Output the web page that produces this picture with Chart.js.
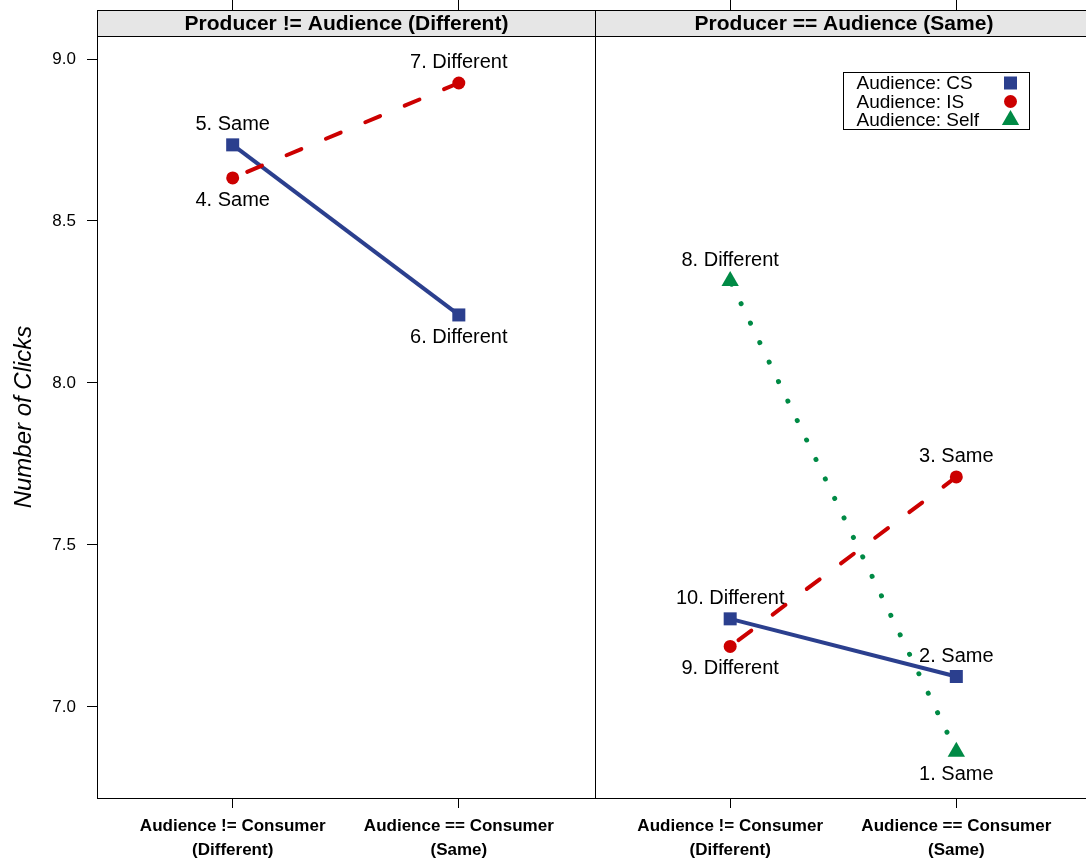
<!DOCTYPE html>
<html>
<head>
<meta charset="utf-8">
<script src="https://cdn.jsdelivr.net/npm/chart.js@4.4.1/dist/chart.umd.min.js"></script>
<style>
html, body { margin: 0; padding: 0; background: #fff; overflow: hidden; }
#wrap { position: relative; width: 1092px; height: 863px; overflow: hidden; }
canvas { display: block; width: 1092px; height: 863px; }
</style>
</head>
<body>
<div id="wrap"><canvas id="chart" width="1092" height="863"></canvas></div>
<script>
const FONT = '"Liberation Sans", Arial, Helvetica, sans-serif';

// text of the panels / axes
const panelTitles = ['Producer != Audience (Different)', 'Producer == Audience (Same)'];
const categories = [['Audience != Consumer', '(Different)'], ['Audience == Consumer', '(Same)']];
const yTicks = [7.0, 7.5, 8.0, 8.5, 9.0];
const yTitle = 'Number of Clicks';
const legendNames = ['Audience: CS', 'Audience: IS', 'Audience: Self'];

// panel 1: Producer != Audience, values for [Different, Same] consumer
const csP1 = [8.735, 8.210];
const isP1 = [8.633, 8.926];
const csP1Labels = ['5. Same', '6. Different'];
const isP1Labels = ['4. Same', '7. Different'];

// panel 2: Producer == Audience
const csP2 = [7.272, 7.094];
const isP2 = [7.187, 7.710];
const selfP2 = [8.315, 6.862];
const csP2Labels = ['10. Different', '2. Same'];
const isP2Labels = ['9. Different', '3. Same'];
const selfP2Labels = ['8. Different', '1. Same'];

// look
const styles = {
  CS:   { color: '#2B3F8E', pointStyle: 'rect',     radius: 9.2, width: 4, dash: [] },
  IS:   { color: '#CC0000', pointStyle: 'circle',   radius: 6.5, width: 4, dash: [16, 26.7] },
  Self: { color: '#008A45', pointStyle: 'triangle', radius: 10,  width: 5, dash: [0.01, 21.6] },
};
const PAD = 0.6;                                   // lattice padding of a factor axis
const panelSpan = categories.length - 1 + 2 * PAD; // width of one panel in x units
const STRIP_H = 26;
const xOf = (panel, i) => 1 + i + panel * panelSpan;
const catTicks = panelTitles.flatMap((_, p) => categories.map((_, i) => xOf(p, i)));

function series(key, panel, vals, labels, sides, order) {
  const s = styles[key];
  // lattice draws from the "Same" end, so the dash pattern starts there
  const data = vals.map((v, i) => ({ x: xOf(panel, i), y: v, label: labels[i], side: sides[i] })).reverse();
  return {
    label: key, data, showLine: true, order,
    borderColor: s.color, backgroundColor: s.color, borderWidth: s.width,
    borderDash: s.dash, borderCapStyle: s.dash.length ? 'round' : 'butt',
    pointStyle: s.pointStyle, pointRadius: s.radius, pointHoverRadius: s.radius,
    pointBackgroundColor: s.color, pointBorderWidth: 0,
  };
}

const datasets = [
  series('CS', 0, csP1, csP1Labels, ['above', 'below'], 3),
  series('IS', 0, isP1, isP1Labels, ['below', 'above'], 2),
  series('CS', 1, csP2, csP2Labels, ['above', 'above'], 3),
  series('IS', 1, isP2, isP2Labels, ['below', 'above'], 2),
  series('Self', 1, selfP2, selfP2Labels, ['above', 'below'], 1),
];

// point labels above / below markers
const pointLabels = {
  id: 'pointLabels',
  afterDatasetsDraw(chart) {
    const ctx = chart.ctx;
    ctx.save();
    ctx.font = `20px ${FONT}`;
    ctx.fillStyle = '#000';
    ctx.textAlign = 'center';
    ctx.textBaseline = 'alphabetic';
    chart.data.datasets.forEach((ds, di) => {
      chart.getDatasetMeta(di).data.forEach((el, i) => {
        const p = ds.data[i];
        ctx.fillText(p.label, el.x, p.side === 'above' ? el.y - 15 : el.y + 28);
      });
    });
    ctx.restore();
  }
};

// strips and panel borders
const lattice = {
  id: 'lattice',
  afterDraw(chart) {
    const { ctx, chartArea: a, scales: { x } } = chart;
    const top = a.top - STRIP_H;
    ctx.save();
    ctx.lineWidth = 1;
    ctx.strokeStyle = '#000';
    panelTitles.forEach((t, p) => {
      const l = Math.round(x.getPixelForValue(1 - PAD + p * panelSpan)) + 0.5;
      const r = Math.round(x.getPixelForValue(1 - PAD + (p + 1) * panelSpan)) + 0.5;
      ctx.fillStyle = '#E6E6E6';
      ctx.fillRect(l, top, r - l, STRIP_H);
      ctx.strokeRect(l, top + 0.5, r - l, Math.round(a.bottom) - top);
      ctx.beginPath();
      ctx.moveTo(l, Math.round(a.top) + 0.5);
      ctx.lineTo(r, Math.round(a.top) + 0.5);
      ctx.stroke();
      ctx.fillStyle = '#000';
      ctx.font = `bold 21px ${FONT}`;
      ctx.textAlign = 'center';
      ctx.textBaseline = 'middle';
      ctx.fillText(t, (l + r) / 2, top + STRIP_H / 2 + 1);
    });
    ctx.restore();
  }
};

// key inside the second panel
const legendBox = { left: 843.5, top: 72.5, width: 186, height: 57, textX: 13, markX: 167, row0: 10.5, rowH: 18.5 };
const keyLegend = {
  id: 'keyLegend',
  afterDraw(chart) {
    const ctx = chart.ctx, b = legendBox;
    ctx.save();
    ctx.fillStyle = '#fff';
    ctx.fillRect(b.left, b.top, b.width, b.height);
    ctx.lineWidth = 1;
    ctx.strokeStyle = '#000';
    ctx.strokeRect(b.left, b.top, b.width, b.height);
    ctx.font = `19px ${FONT}`;
    ctx.textAlign = 'left';
    ctx.textBaseline = 'middle';
    Object.keys(styles).forEach((k, i) => {
      const s = styles[k];
      const y = b.top + b.row0 + i * b.rowH;
      ctx.fillStyle = '#000';
      ctx.fillText(legendNames[i], b.left + b.textX, y + 1);
      ctx.fillStyle = s.color;
      Chart.helpers.drawPoint(ctx, { pointStyle: s.pointStyle, radius: s.radius, rotation: 0, borderWidth: 0 }, b.left + b.markX, y);
    });
    ctx.restore();
  }
};

const setCatTicks = (s) => { s.ticks = catTicks.map(v => ({ value: v })); };
const xMin = 1 - PAD, xMax = 1 - PAD + panelTitles.length * panelSpan;

new Chart(document.getElementById('chart'), {
  type: 'scatter',
  data: { datasets },
  options: {
    responsive: false,
    animation: false,
    events: [],
    layout: { padding: 0, autoPadding: false },
    plugins: { legend: { display: false }, tooltip: { enabled: false } },
    scales: {
      x: {
        type: 'linear', position: 'bottom', min: xMin, max: xMax, bounds: 'data',
        afterBuildTicks: setCatTicks,
        afterFit: (s) => { s.height = 65; s.paddingLeft = 0; s.paddingRight = 0; },
        grid: { drawOnChartArea: false, tickLength: 10, color: '#000' },
        border: { display: false },
        ticks: {
          autoSkip: false, maxRotation: 0, padding: 6, color: '#000',
          font: { family: FONT, size: 17, weight: 'bold', lineHeight: 1.41 },
          callback: (v, i) => categories[i % categories.length],
        },
      },
      x2: {
        type: 'linear', position: 'top', min: xMin, max: xMax, bounds: 'data',
        afterBuildTicks: setCatTicks,
        afterFit: (s) => { s.height = 36; s.paddingLeft = 0; s.paddingRight = 0; },
        grid: { drawOnChartArea: false, tickLength: 36, color: '#000' },
        border: { display: false },
        ticks: { display: false },
      },
      y: {
        type: 'linear', position: 'left', min: 6.719, max: 9.071, bounds: 'data',
        afterBuildTicks: (s) => { s.ticks = yTicks.map(v => ({ value: v })); },
        afterFit: (s) => { s.width = 97; s.paddingTop = 0; s.paddingBottom = 0; },
        grid: { drawOnChartArea: false, tickLength: 10, color: '#000' },
        border: { display: false },
        ticks: {
          padding: 11, color: '#000',
          font: { family: FONT, size: 17 },
          callback: (v) => v.toFixed(1),
        },
        title: {
          display: true, text: yTitle, color: '#000',
          font: { family: FONT, size: 24, style: 'italic' },
          padding: { top: 10, bottom: 0 },
        },
      },
    },
  },
  plugins: [pointLabels, lattice, keyLegend],
});
</script>
</body>
</html>
